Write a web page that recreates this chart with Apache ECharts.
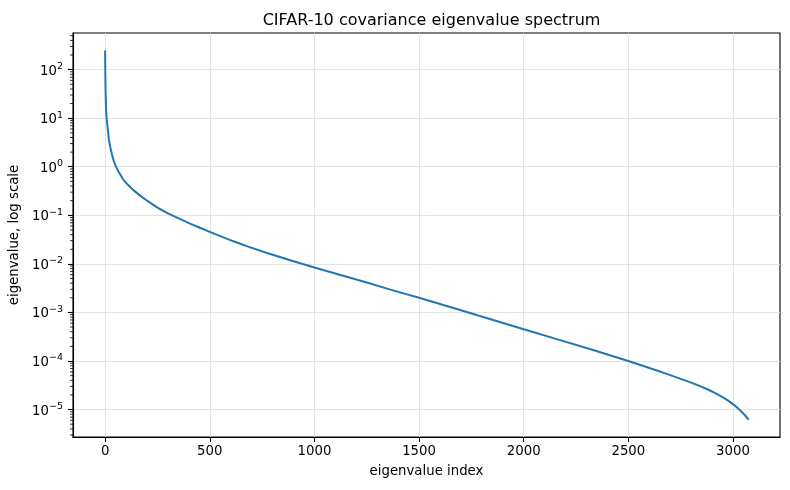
<!DOCTYPE html>
<html><head><meta charset="utf-8">
<script src="https://cdn.jsdelivr.net/npm/echarts@6/dist/echarts.min.js"></script>
<style>html,body{margin:0;padding:0;background:#fff}#c{width:790px;height:490px}</style>
</head><body><div id="c"></div>
<script>
// eigenvalue index (x) and eigenvalue (y)
const eigIndex = [0, 1, 2, 3, 4, 6, 8, 12, 18, 25, 33, 42, 52, 65, 86, 110, 135, 160, 200, 230, 250, 300, 370, 400, 450, 500, 610, 680, 770, 900, 1000, 1125, 1250, 1375, 1500, 1700, 1850, 2000, 2170, 2320, 2500, 2640, 2700, 2790, 2840, 2880, 2920, 2950, 2975, 3000, 3015, 3030, 3050, 3060, 3071];
const eigValue = [235, 70, 38, 25, 17, 11.2, 9, 6.3, 3.6, 2.5, 1.76, 1.29, 1.0, 0.78, 0.55, 0.42, 0.33, 0.27, 0.2, 0.164, 0.1445, 0.1096, 0.0794, 0.0692, 0.0562, 0.0457, 0.0295, 0.0229, 0.0170, 0.01135, 0.00841, 0.00589, 0.00412, 0.00285, 0.002, 0.00111, 0.000708, 0.000452, 0.000272, 0.000174, 0.0001, 0.000063, 0.0000513, 0.0000372, 0.0000307, 0.0000259, 0.00002135, 0.0000181, 0.0000155, 0.00001295, 0.00001148, 0.00001004, 0.00000823, 0.00000737, 0.00000644];
const xTickLabels = ['0', '500', '1000', '1500', '2000', '2500', '3000'];
const yTickExponents = [-5, -4, -3, -2, -1, 0, 1, 2];
const minorMultipliers = [2, 3, 4, 5, 6, 7, 8, 9];
const minorDecades = [-6, -5, -4, -3, -2, -1, 0, 1, 2];

const X_MIN = -153.55, X_MAX = 3224.55;
const Y_MIN = Math.pow(10, -5.565), Y_MAX = Math.pow(10, 2.754);

const lineData = eigIndex.map((x, i) => [x, eigValue[i]]);
const minorData = [];
minorDecades.forEach(d => minorMultipliers.forEach(m => {
  const v = m * Math.pow(10, d);
  if (v > Y_MIN && v < Y_MAX) minorData.push([X_MIN, v]);
}));

const FONT = 'DejaVu Sans';
const chart = echarts.init(document.getElementById('c'), null, {renderer: 'canvas'});
chart.setOption({
  animation: false,
  backgroundColor: '#ffffff',
  textStyle: {fontFamily: FONT},
  title: {
    text: 'CIFAR-10 covariance eigenvalue spectrum',
    left: 426.5, top: 8, textAlign: 'center',
    textStyle: {fontFamily: FONT, fontSize: 16, fontWeight: 'normal', color: '#000'}
  },
  grid: {left: 73, right: 10, top: 33, bottom: 53, show: true, borderColor: '#000', borderWidth: 1.1, backgroundColor: 'transparent'},
  xAxis: {
    type: 'value', min: X_MIN, max: X_MAX, splitNumber: 7,
    name: 'eigenvalue index', nameLocation: 'middle', nameGap: 28,
    nameTextStyle: {fontFamily: FONT, fontSize: 13.3, color: '#000'},
    axisLine: {show: true, onZero: false, lineStyle: {color: '#000', width: 1.1}},
    axisTick: {show: true, length: 5, lineStyle: {color: '#000', width: 1.1}},
    axisLabel: {
      margin: 8, color: '#000', fontFamily: FONT, fontSize: 13.3,
      showMinLabel: false, showMaxLabel: false,
      formatter: v => { const s = String(Math.round(v)); return (Math.abs(v - Math.round(v)) < 1e-6 && xTickLabels.includes(s)) ? s : ''; }
    },
    splitLine: {show: true, showMinLine: false, showMaxLine: false, lineStyle: {color: '#e3e3e3', width: 1}}
  },
  yAxis: {
    type: 'log', logBase: 10, min: Y_MIN, max: Y_MAX,
    name: 'eigenvalue, log scale', nameLocation: 'middle', nameGap: 50,
    nameTextStyle: {fontFamily: FONT, fontSize: 13.3, color: '#000'},
    axisLine: {show: true, onZero: false, lineStyle: {color: '#000', width: 1.1}},
    axisTick: {show: true, length: 5, lineStyle: {color: '#000', width: 1.1}},
    axisLabel: {
      margin: 10, color: '#000', fontFamily: FONT,
      showMinLabel: false, showMaxLabel: false,
      formatter: v => {
        const e = Math.log10(v); const r = Math.round(e);
        if (Math.abs(e - r) > 1e-6 || !yTickExponents.includes(r)) return '';
        return '{b|10}{s|' + String(r).replace('-', '\u2212') + '}';
      },
      rich: {
        b: {fontFamily: FONT, fontSize: 13.3, color: '#000', verticalAlign: 'bottom', padding: [0, 0, 0, 0]},
        s: {fontFamily: FONT, fontSize: 9.5, color: '#000', verticalAlign: 'bottom', padding: [0, 0, 6, 0]}
      }
    },
    splitLine: {show: true, showMinLine: false, showMaxLine: false, lineStyle: {color: '#e3e3e3', width: 1}}
  },
  series: [
    {
      type: 'line', data: lineData, showSymbol: false, symbol: 'none',
      smooth: false, lineStyle: {color: '#1f77b4', width: 2, cap: 'square', join: 'round'}, z: 5, clip: true
    },
    {
      type: 'custom', data: minorData, clip: false, silent: true, z: 6,
      encode: {x: 0, y: 1},
      renderItem: (params, api) => {
        const p = api.coord([api.value(0), api.value(1)]);
        return {type: 'line', shape: {x1: p[0] - 3, y1: p[1], x2: p[0], y2: p[1]}, style: {stroke: '#000', lineWidth: 0.8}};
      }
    }
  ]
});
</script></body></html>
